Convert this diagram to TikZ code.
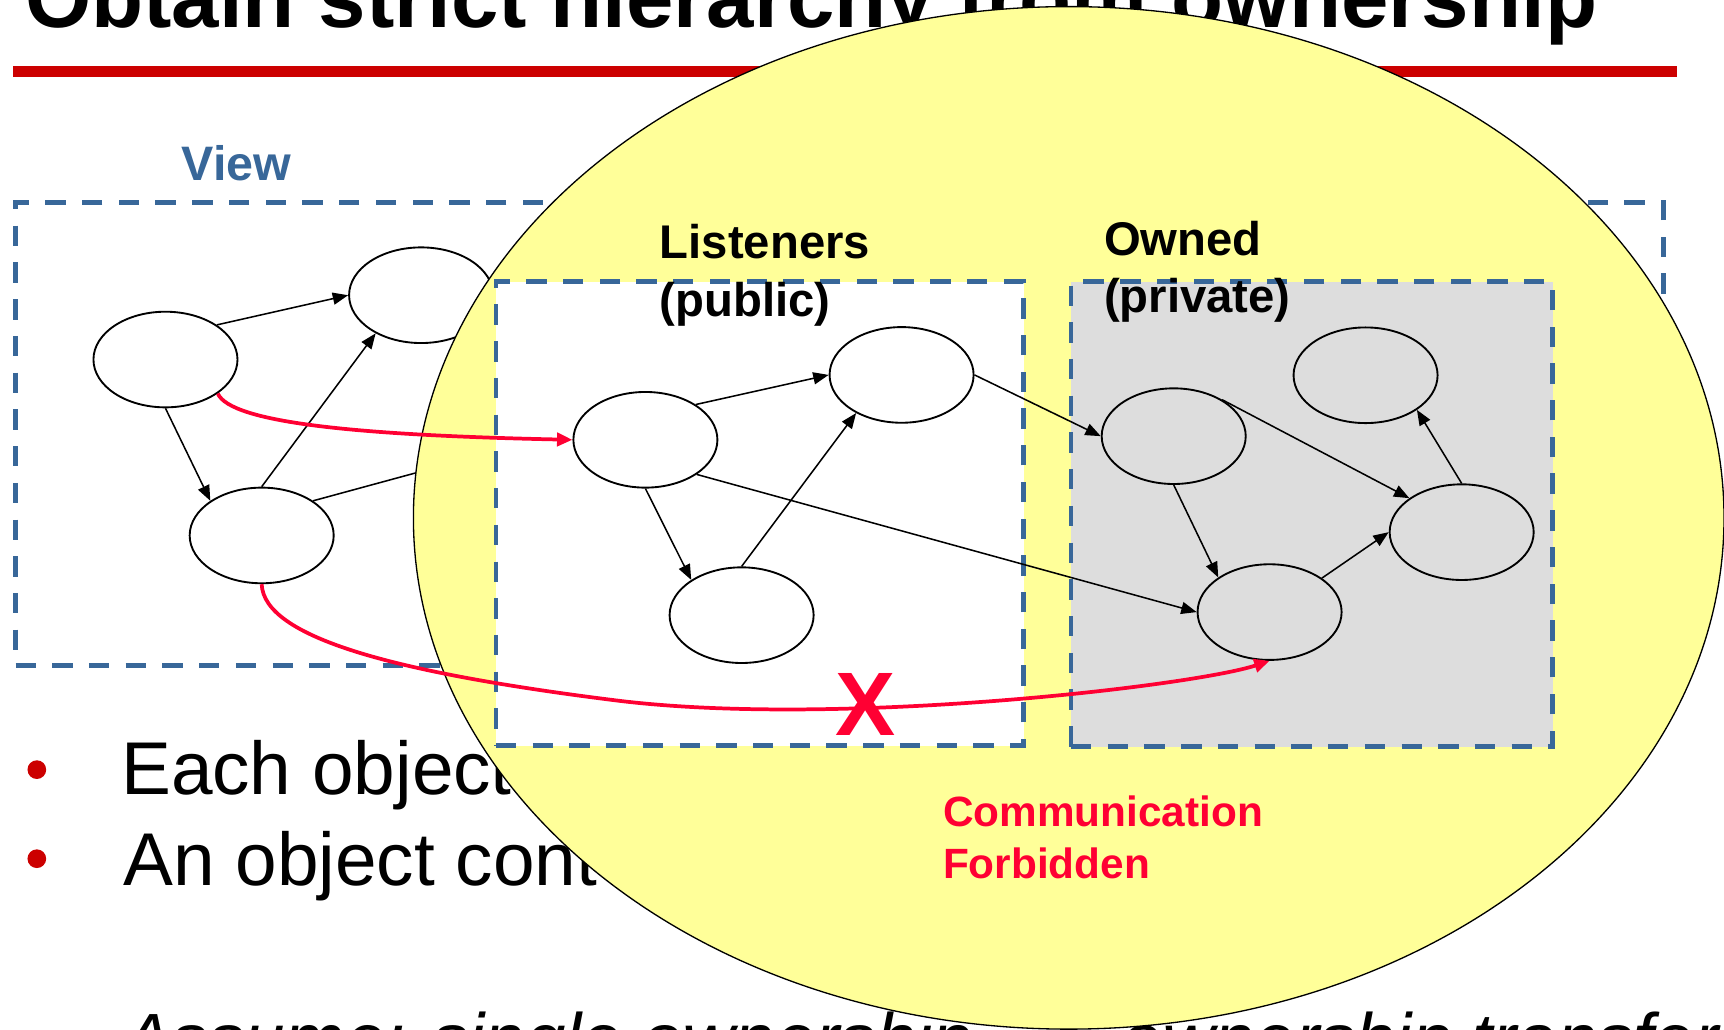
\documentclass[tikz,border=0pt]{standalone}
\usepackage{fontspec}
\setmainfont{Liberation Sans}
\usetikzlibrary{shapes.geometric,arrows.meta}

\definecolor{viewblue}{RGB}{56,103,153}
\definecolor{zoneyellow}{RGB}{255,255,153}
\definecolor{privgray}{RGB}{221,221,221}
\definecolor{barred}{RGB}{204,0,0}
\definecolor{alertred}{RGB}{255,0,51}

\newcommand\fsz[1]{\fontsize{#1}{#1}\selectfont}

\begin{document}
\begin{tikzpicture}[x=1pt,y=-1pt,
  obj/.style={ellipse, draw, line width=1.7pt, minimum width=131pt,
    minimum height=87pt, inner sep=0pt, fill=white},
  privobj/.style={obj, fill=privgray},
  link/.style={line width=1.4pt, -{Triangle[length=14pt,width=11pt]}},
  plainlink/.style={line width=1.4pt},
  msg/.style={draw=alertred, line width=3.4pt,
    -{Triangle[length=14pt,width=12pt,fill=alertred]}},
  grpbox/.style={rectangle, draw=viewblue, line width=4.2pt,
    dash pattern=on 18.5pt off 14.9pt, inner sep=0pt, anchor=north west},
  lbl/.style={anchor=base west, inner sep=0pt}]

\useasboundingbox (0,0) rectangle (1568,936);

% heading and rule
\node[lbl, font=\bfseries\fsz{77.5}] (title) at (22.7,25) {Obtain strict hierarchy from ownership};
\fill[barred] (12,60) rectangle (1525,70);

% the view group
\node[lbl, text=viewblue, font=\bfseries\fsz{44}] (viewlbl) at (165,164) {View};
\node[grpbox, minimum width=1499pt, minimum height=421pt] (view) at (12,182) {};

\node[obj] (A) at (150.5,327) {};
\node[obj] (B) at (383,268.5) {};
\node[obj] (C) at (238,487) {};
\coordinate (off) at (430,416);
\draw[link] (A.34) -- (B.west);
\draw[link] (A.south) -- (C.146);
\draw[link] (C.north) -- (B.220);
\draw[plainlink] (C.34) -- (off);

% bullet text
\fill[barred] (33.5,700) circle (8.5pt);
\fill[barred] (33.5,781) circle (8.5pt);
\node[lbl, font=\fsz{68}] (b1) at (110,723) {Each object};
\node[lbl, font=\fsz{68}] (b2) at (112,805) {An object cont};
\node[lbl, font=\itshape\fsz{66}] (n1) at (112,968) {Assume: single ownership};
\node[lbl, font=\itshape\fsz{66}] (n2) at (1020,968) {ownership transfer};

% ownership zone
\node[ellipse, draw, line width=1.2pt, fill=zoneyellow, inner sep=0pt,
  minimum width=1192pt, minimum height=930pt] (zone) at (972,471) {};

% listeners and owned groups
\node[grpbox, fill=white, minimum width=480pt, minimum height=422pt] (pub) at (449,254) {};
\node[grpbox, fill=privgray, minimum width=438pt, minimum height=423pt] (priv) at (972,254) {};

\node[lbl, font=\bfseries\fsz{43}] (publbl1) at (600,235.5) {Listeners};
\node[lbl, font=\bfseries\fsz{43}] (publbl2) at (600,287.5) {(public)};
\node[lbl, font=\bfseries\fsz{43}] (privlbl1) at (1004,232.7) {Owned};
\node[lbl, font=\bfseries\fsz{43}] (privlbl2) at (1004,284.2) {(private)};

\node[obj] (L1) at (587,400) {};
\node[obj] (L2) at (820,341) {};
\node[obj] (L3) at (674.5,559.5) {};

\node[privobj] (O1) at (1067.5,396.7) {};
\node[privobj] (O2) at (1242,341.3) {};
\node[privobj] (O3) at (1154.7,556.7) {};
\node[privobj] (O4) at (1329.4,484) {};

\draw[link] (L1.35) -- (L2.west);
\draw[link] (L1.south) -- (L3.145);
\draw[link] (L3.north) -- (L2.220);
\draw[link] (L1.-34) -- (O3.west);
\draw[link] (L2.east) -- (O1.west);

\draw[link] (O1.37) -- (O4.147);
\draw[link] (O1.south) -- (O3.146);
\draw[link] (O3.33) -- (O4.west);
\draw[link] (O4.north) -- (O2.-34);

% messages
\draw[msg] (A.-33) .. controls (210,385) and (330,396) .. (L1.west);
\draw[msg] (C.south) .. controls (240,580) and (360,612) .. (560,637)
  .. controls (760,662) and (1085,624) .. (O3.south);

\node[anchor=base, inner sep=0pt, text=alertred, font=\bfseries\fsz{82}] (veto) at (787,668.5) {X};
\node[lbl, text=alertred, font=\bfseries\fsz{38.5}] (forb1) at (857.5,752) {Communication};
\node[lbl, text=alertred, font=\bfseries\fsz{38.5}] (forb2) at (857.5,799) {Forbidden};

\end{tikzpicture}
\end{document}
